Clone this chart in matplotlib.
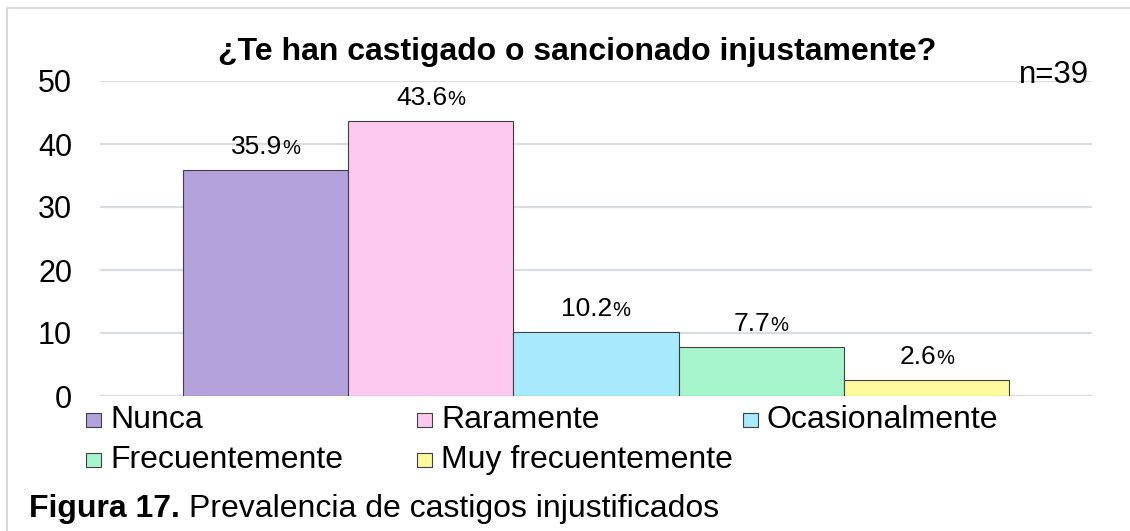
import matplotlib
matplotlib.use("Agg")
import matplotlib.pyplot as plt
from matplotlib.patches import Rectangle
from matplotlib.lines import Line2D
from matplotlib.offsetbox import TextArea, HPacker, AnnotationBbox

plt.rcParams['font.family'] = ['Liberation Sans', 'DejaVu Sans']

# data
categorias = ["Nunca", "Raramente", "Ocasionalmente", "Frecuentemente", "Muy frecuentemente"]
valores = [35.9, 43.6, 10.2, 7.7, 2.6]
etiquetas = ["35.9", "43.6", "10.2", "7.7", "2.6"]
colores = ["#B3A2DB", "#FDC8EF", "#A6EAFB", "#A6F5CC", "#FCFA9C"]
yticks = [0, 10, 20, 30, 40, 50]

W, H = 1130, 531
fig = plt.figure(figsize=(W / 100, H / 100), dpi=100)

def fx(px):
    return px / W

def fy(py):
    return 1 - py / H

# chart frame (light border, runs off the right and bottom)
fig.add_artist(Line2D([fx(7), 1.0], [fy(8), fy(8)], color="#D9D9D9", lw=1.5))
fig.add_artist(Line2D([fx(7), fx(7)], [fy(8), 0.0], color="#D9D9D9", lw=1.5))

ax = fig.add_axes([fx(100), fy(396), fx(1092) - fx(100), fy(81) - fy(396)])
x = list(range(len(categorias)))
ax.bar(x, valores, width=1.0, color=colores, edgecolor="#404040", linewidth=0.8, zorder=3)
ax.set_xlim(-1.0, 5.0)
ax.set_ylim(0, 50)
ax.set_yticks(yticks)
ax.set_xticks([])
ax.tick_params(axis="y", length=0, pad=20, labelsize=22)
ax.grid(axis="y", color="#D9DDE3", linewidth=1.6, zorder=0)
for s in ax.spines.values():
    s.set_visible(False)

# value labels: number + smaller percent sign
for xi, v, lab in zip(x, valores, etiquetas):
    box = HPacker(children=[TextArea(lab, textprops=dict(size=19)),
                            TextArea("%", textprops=dict(size=14.5))],
                  align="baseline", pad=0, sep=0)
    ab = AnnotationBbox(box, (xi, v), xybox=(0, 8), xycoords="data",
                        boxcoords="offset points", frameon=False,
                        box_alignment=(0.5, 0))
    ax.add_artist(ab)

fig.text(fx(577), fy(52), "¿Te han castigado o sancionado injustamente?",
         ha="center", va="center", fontsize=23, fontweight="bold")
fig.text(fx(1089), fy(83), "n=39", ha="right", va="baseline", fontsize=22.5)

# legend, two rows
leg_cols = [86, 417, 743]
leg_rows = [420, 460]
for i, (cat, col) in enumerate(zip(categorias, colores)):
    r, c = divmod(i, 3)
    px, py = leg_cols[c], leg_rows[r]
    fig.add_artist(Rectangle((fx(px), fy(py + 7)), fx(15), 14 / H,
                             facecolor=col, edgecolor="#404040", lw=0.8,
                             transform=fig.transFigure))
    fig.text(fx(px + 24), fy(py), cat, ha="left", va="center", fontsize=23)

# caption
t = fig.text(fx(29), fy(517), "Figura 17.", ha="left", va="baseline",
             fontsize=23, fontweight="bold")
fig.canvas.draw()
bb = t.get_window_extent()
fig.text(bb.x1 / W + fx(9), fy(517), "Prevalencia de castigos injustificados",
         ha="left", va="baseline", fontsize=23)

fig.savefig("out.png", dpi=100)
